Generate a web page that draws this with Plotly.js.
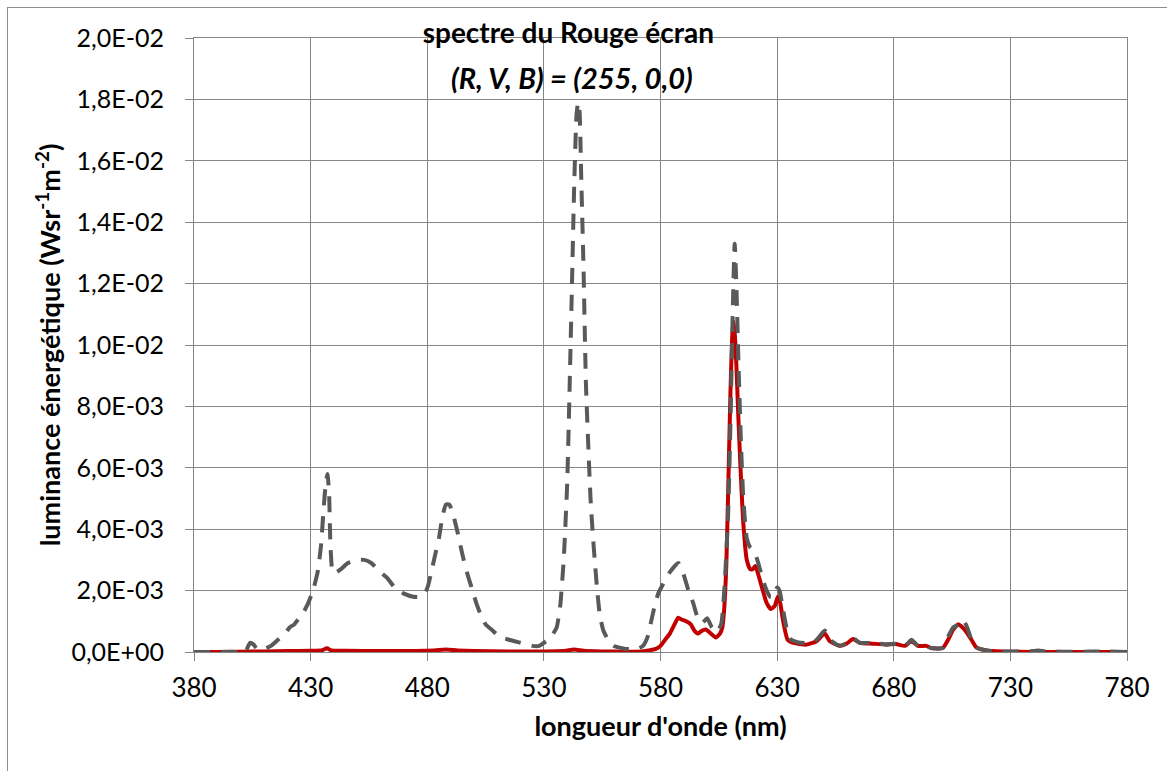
<!DOCTYPE html>
<html>
<head>
<meta charset="utf-8">
<script src="https://cdn.plot.ly/plotly-3.0.1.min.js"></script>
<style>
html,body{margin:0;padding:0;background:#fff;}
#chart{position:absolute;left:0;top:0;width:1167px;height:771px;}
#frame{position:absolute;left:7px;top:7px;width:1200px;height:800px;border-left:1.5px solid #8e8e8e;border-top:1.5px solid #8e8e8e;pointer-events:none;z-index:10;}
</style>
</head>
<body>
<div id="chart"></div>
<div id="frame"></div>
<script>
// Spectre du rouge écran (R,V,B) = (255,0,0)
var redNm = [380,390,400,410,420,430,435,437,439,445,460,475,483,488,493,500,515,530,538,543,547,555,565,572,575,578,580,582,584,586,587.6,589,591,593,594.5,596,597.5,599.4,601.6,603.7,605.5,606.5,607.3,608.2,609,610,610.7,611.2,611.8,612.5,613.3,614.3,615.5,617,618.4,619.5,620.7,622,623.5,625.5,627.3,629,630.3,631.3,632.6,634.5,637,642.6,646.9,650.4,652.6,657,659.7,662.6,665.4,671,677,681,684.7,687.6,690.4,694,696,701,703.3,705.4,707.6,709.5,711,713.3,715.4,719.7,730,750,780];
var redVal = [0,0,0.00001,0.00002,0.00003,0.00004,0.00006,0.00012,0.00005,0.00004,0.00003,0.00003,0.00005,0.00008,0.00005,0.00003,0.00002,0.00002,0.00003,0.00008,0.00004,0.00002,0.00001,0.00002,0.00005,0.0001,0.0002,0.0004,0.0006,0.0009,0.00112,0.00106,0.001,0.0009,0.0007,0.0006,0.00068,0.00073,0.0006,0.00047,0.0006,0.0008,0.0014,0.0028,0.0052,0.0085,0.0102,0.0108,0.0104,0.0094,0.0078,0.006,0.0042,0.003,0.0027,0.0027,0.0028,0.0025,0.0021,0.0016,0.0014,0.0015,0.0018,0.0016,0.001,0.0004,0.0003,0.00024,0.00035,0.0006,0.00035,0.0002,0.00027,0.00042,0.0003,0.00027,0.00024,0.00026,0.0002,0.00035,0.0002,0.0002,0.00013,0.00013,0.0004,0.00072,0.0009,0.0008,0.00067,0.0004,0.00015,0.00005,0.00001,0,0];

var greyNm = [380,390,400,402,404,405.5,407,410,413,416,419,421,423,425,427,429,431,433,434.5,435.5,436.5,437.2,437.9,438.5,439.5,441,443,446,450,453,456,460,463,466,470,474,477,479,480.5,482,483.5,485,486.5,488,489.5,491,493,495,497,499,501,503,505,508,511,515,520,525,528,530,532,534,535.5,537,538.5,540,541,542,543,544,544.7,545.3,546,547,548,549,550,551,552,553,554,555.5,557.5,560,565,570,572.5,574.5,576,577.5,579,581,584,587.6,590,592,594,596,598,600,602,604,606,607.5,609,610,611,611.8,612.5,613.5,614.5,615.5,617,618.5,620,621.5,623,625,627,628.5,630,631,632.5,634,636,640,645,647,650.4,652.6,657,660,662.6,665.4,671,677,681,685,687.6,690.4,694,696,701,703.3,705.5,708,709.7,711.5,713.3,715.4,720,725,740,742,745,760,770,780];
var greyVal = [0,0,0,0,0.0003,0.00025,0.0001,0.0001,0.0002,0.0004,0.0006,0.0008,0.0009,0.0011,0.0013,0.0016,0.002,0.0026,0.0035,0.0046,0.0055,0.0058,0.0052,0.0035,0.0026,0.0026,0.0027,0.0029,0.003,0.003,0.0029,0.0026,0.0024,0.0021,0.0019,0.0018,0.0018,0.0019,0.0022,0.0027,0.0032,0.0037,0.0044,0.0048,0.0048,0.0045,0.0039,0.0032,0.0026,0.0021,0.0016,0.0012,0.0009,0.0007,0.0005,0.0004,0.0003,0.0002,0.0002,0.0003,0.0004,0.0006,0.0008,0.0015,0.003,0.0055,0.0085,0.0118,0.0152,0.0175,0.0179,0.0176,0.0155,0.0125,0.0088,0.0068,0.005,0.0038,0.0028,0.0019,0.0012,0.0007,0.0004,0.0002,0.0001,0.0001,0.0002,0.0005,0.001,0.0015,0.0019,0.0022,0.0026,0.0029,0.0025,0.002,0.0016,0.0011,0.00095,0.0011,0.0008,0.00065,0.0009,0.0022,0.0045,0.0075,0.0112,0.0133,0.012,0.0092,0.0068,0.005,0.0037,0.0034,0.0033,0.003,0.0026,0.0021,0.0018,0.0018,0.0021,0.002,0.0014,0.0008,0.0004,0.0003,0.0003,0.0004,0.0007,0.0004,0.0002,0.0003,0.00045,0.0003,0.0003,0.00025,0.00027,0.0002,0.0004,0.0002,0.0002,0.00013,0.00013,0.0005,0.0008,0.0009,0.00105,0.0008,0.0004,0.00015,0.00005,0.00002,0.00003,0.00005,0.00002,0.00001,0.00002,0];

var xTicks = [380,430,480,530,580,630,680,730,780];
var yTicks = [0,0.002,0.004,0.006,0.008,0.010,0.012,0.014,0.016,0.018,0.020];
var yTickText = ["0,0E+00","2,0E-03","4,0E-03","6,0E-03","8,0E-03","1,0E-02","1,2E-02","1,4E-02","1,6E-02","1,8E-02","2,0E-02"];

var titleText = "spectre du Rouge écran";
var subtitleText = "(R, V, B) = (255, 0,0)";

var FONT = "Lato, 'Open Sans', sans-serif";
var GRID = "#868686";

var traces = [
  {x: redNm, y: redVal, type: "scatter", mode: "lines", name: "Rouge écran",
   line: {color: "#C00000", width: 4, shape: "spline", smoothing: 0.5}, hoverinfo: "x+y"},
  {x: greyNm, y: greyVal, type: "scatter", mode: "lines", name: "spectre total",
   line: {color: "#595959", width: 4, dash: "16px,11px", shape: "spline", smoothing: 0.5}, hoverinfo: "x+y"}
];

var layout = {
  width: 1167, height: 771,
  paper_bgcolor: "#ffffff", plot_bgcolor: "#ffffff",
  margin: {l: 194, r: 40, t: 38, b: 119},
  showlegend: false,
  font: {family: FONT, color: "#000000", size: 22},
  title: {
    text: "<b>" + titleText + "</b>",
    font: {family: FONT, size: 28, color: "#000000"},
    x: 0.487, xref: "container", xanchor: "center",
    y: 0.957, yref: "container", yanchor: "middle"
  },
  annotations: [{
    text: "<b><i>" + subtitleText + "</i></b>",
    font: {family: FONT, size: 29, color: "#000000"},
    xref: "paper", yref: "paper", x: 0.405, y: 0.936,
    xanchor: "center", yanchor: "middle", showarrow: false
  }],
  xaxis: {
    range: [380, 780], tickvals: xTicks, ticktext: xTicks.map(String),
    ticks: "outside", ticklen: 8, tickcolor: GRID, tickwidth: 1,
    showgrid: true, gridcolor: GRID, gridwidth: 1,
    showline: true, linecolor: GRID, linewidth: 1, mirror: true,
    zeroline: false, ticklabelstandoff: 5,
    tickfont: {family: FONT, size: 26, color: "#000"},
    title: {text: "<b>longueur d'onde (nm)</b>", font: {family: FONT, size: 27, color: "#000"}, standoff: 14},
    automargin: false
  },
  yaxis: {
    range: [0, 0.02], tickvals: yTicks, ticktext: yTickText,
    ticks: "outside", ticklen: 8, tickcolor: GRID, tickwidth: 1,
    showgrid: true, gridcolor: GRID, gridwidth: 1,
    showline: true, linecolor: GRID, linewidth: 1, mirror: true,
    zeroline: false, ticklabelstandoff: 16,
    tickfont: {family: FONT, size: 25, color: "#000"},
    title: {text: "<b>luminance énergétique (Wsr<sup>-1</sup>m<sup>-2</sup>)</b>", font: {family: FONT, size: 27, color: "#000"}, standoff: 2},
    automargin: false
  }
};

Plotly.newPlot("chart", traces, layout, {displayModeBar: false, staticPlot: true});
</script>
</body>
</html>
